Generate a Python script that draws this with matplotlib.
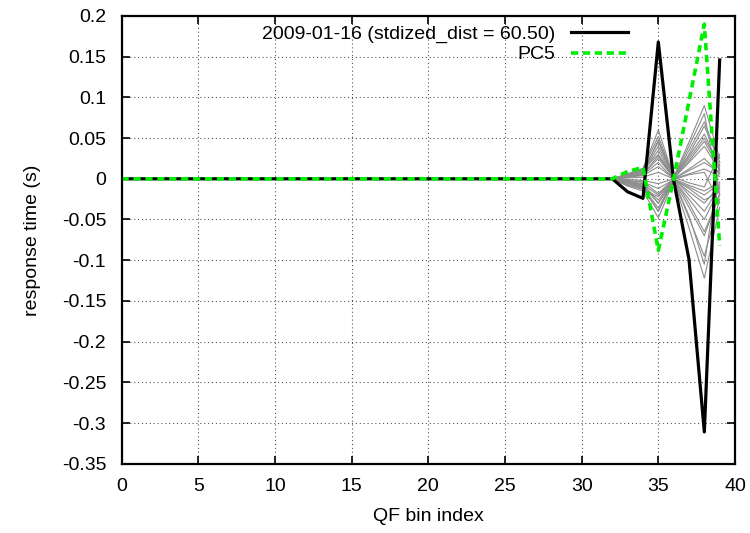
import numpy as np
import matplotlib.pyplot as plt

plt.rcParams['font.family'] = ['Liberation Sans', 'DejaVu Sans']
plt.rcParams['axes.unicode_minus'] = False

bins = np.arange(40)
n_flat = 33  # bins 0..32 sit at zero

# tails for bins 33..39
day_tail = [-0.016, -0.024, 0.168, -0.002, -0.099, -0.311, 0.146]
pc5_tail = [0.009, 0.014, -0.088, 0.000, 0.095, 0.190, -0.082]

gray_tails = [
    [0.006, 0.012, 0.060, 0.002, 0.045, 0.090, 0.025],
    [0.005, 0.010, 0.045, 0.001, 0.035, 0.070, 0.020],
    [0.004, 0.008, 0.035, 0.000, 0.028, 0.055, 0.015],
    [0.003, 0.006, 0.025, 0.001, 0.020, 0.040, 0.010],
    [0.002, 0.004, 0.015, 0.000, 0.012, 0.025, 0.006],
    [0.001, 0.002, 0.008, 0.000, 0.006, 0.012, 0.003],
    [-0.001, -0.002, -0.006, 0.000, -0.008, -0.015, -0.004],
    [-0.002, -0.004, -0.012, -0.001, -0.016, -0.030, -0.008],
    [-0.004, -0.007, -0.020, -0.001, -0.025, -0.050, -0.012],
    [-0.005, -0.009, -0.030, -0.002, -0.035, -0.070, -0.018],
    [-0.007, -0.012, -0.040, -0.002, -0.048, -0.095, -0.025],
    [-0.009, -0.015, -0.048, -0.003, -0.060, -0.122, -0.035],
    [0.004, 0.009, 0.040, 0.001, -0.020, -0.040, -0.010],
    [0.003, 0.006, 0.028, 0.000, -0.030, -0.065, -0.020],
    [-0.003, -0.006, -0.030, 0.001, 0.025, 0.050, 0.015],
    [-0.005, -0.010, -0.040, 0.002, 0.030, 0.065, 0.020],
    [0.002, 0.005, 0.020, -0.001, -0.010, -0.020, -0.006],
    [-0.002, -0.004, -0.018, 0.000, 0.010, 0.020, 0.008],
    [0.006, 0.013, 0.052, 0.002, -0.005, -0.010, 0.030],
    [-0.006, -0.011, -0.036, -0.001, 0.005, 0.008, -0.030],
    [0.005, 0.011, 0.030, 0.001, 0.040, 0.080, -0.020],
    [-0.008, -0.013, -0.022, -0.002, -0.045, -0.105, 0.018],
    [0.002, 0.007, 0.048, 0.000, 0.022, 0.046, 0.012],
    [-0.004, -0.008, -0.026, -0.001, -0.012, -0.026, -0.016],
]

xticks = np.arange(0, 41, 5)
yticks = np.arange(-0.35, 0.2001, 0.05)
ytick_labels = ["-0.35", "-0.3", "-0.25", "-0.2", "-0.15", "-0.1", "-0.05",
                "0", "0.05", "0.1", "0.15", "0.2"]

fig = plt.figure(figsize=(7.5, 5.33), dpi=100)
ax = fig.add_axes([0.162, 0.13, 0.818, 0.84])

for tail in gray_tails:
    ax.plot(bins, [0.0] * n_flat + tail, color="#8c8c8c", lw=0.8)

ax.plot(bins, [0.0] * n_flat + day_tail, color="black", lw=2.3,
        label="2009-01-16 (stdized_dist = 60.50)")
ax.plot(bins, [0.0] * n_flat + pc5_tail, color="#00ee00", lw=2.6,
        ls=(0, (2.0, 1.3)), label="PC5")

ax.set_xlim(0, 40)
ax.set_ylim(-0.35, 0.2)
ax.set_xticks(xticks)
ax.set_yticks(yticks)
ax.set_yticklabels(ytick_labels)
ax.tick_params(direction="in", top=True, right=True, length=5.5, width=1.2,
               labelsize=14)
ax.tick_params(axis="y", pad=11)
ax.tick_params(axis="x", pad=10)
ax.grid(True, ls=(0, (1, 2.5)), color="#555555", lw=0.8)
for sp in ax.spines.values():
    sp.set_linewidth(1.6)

ax.set_xlabel("QF bin index", fontsize=14, labelpad=10)
ax.set_ylabel("response time (s)", fontsize=14, labelpad=15)

ax.legend(loc="upper right", bbox_to_anchor=(0.847, 1.01), frameon=False,
          markerfirst=False, fontsize=14, handlelength=2.9, handletextpad=0.8,
          labelspacing=0.15, borderpad=0.2)

fig.savefig("out.png", dpi=100)
